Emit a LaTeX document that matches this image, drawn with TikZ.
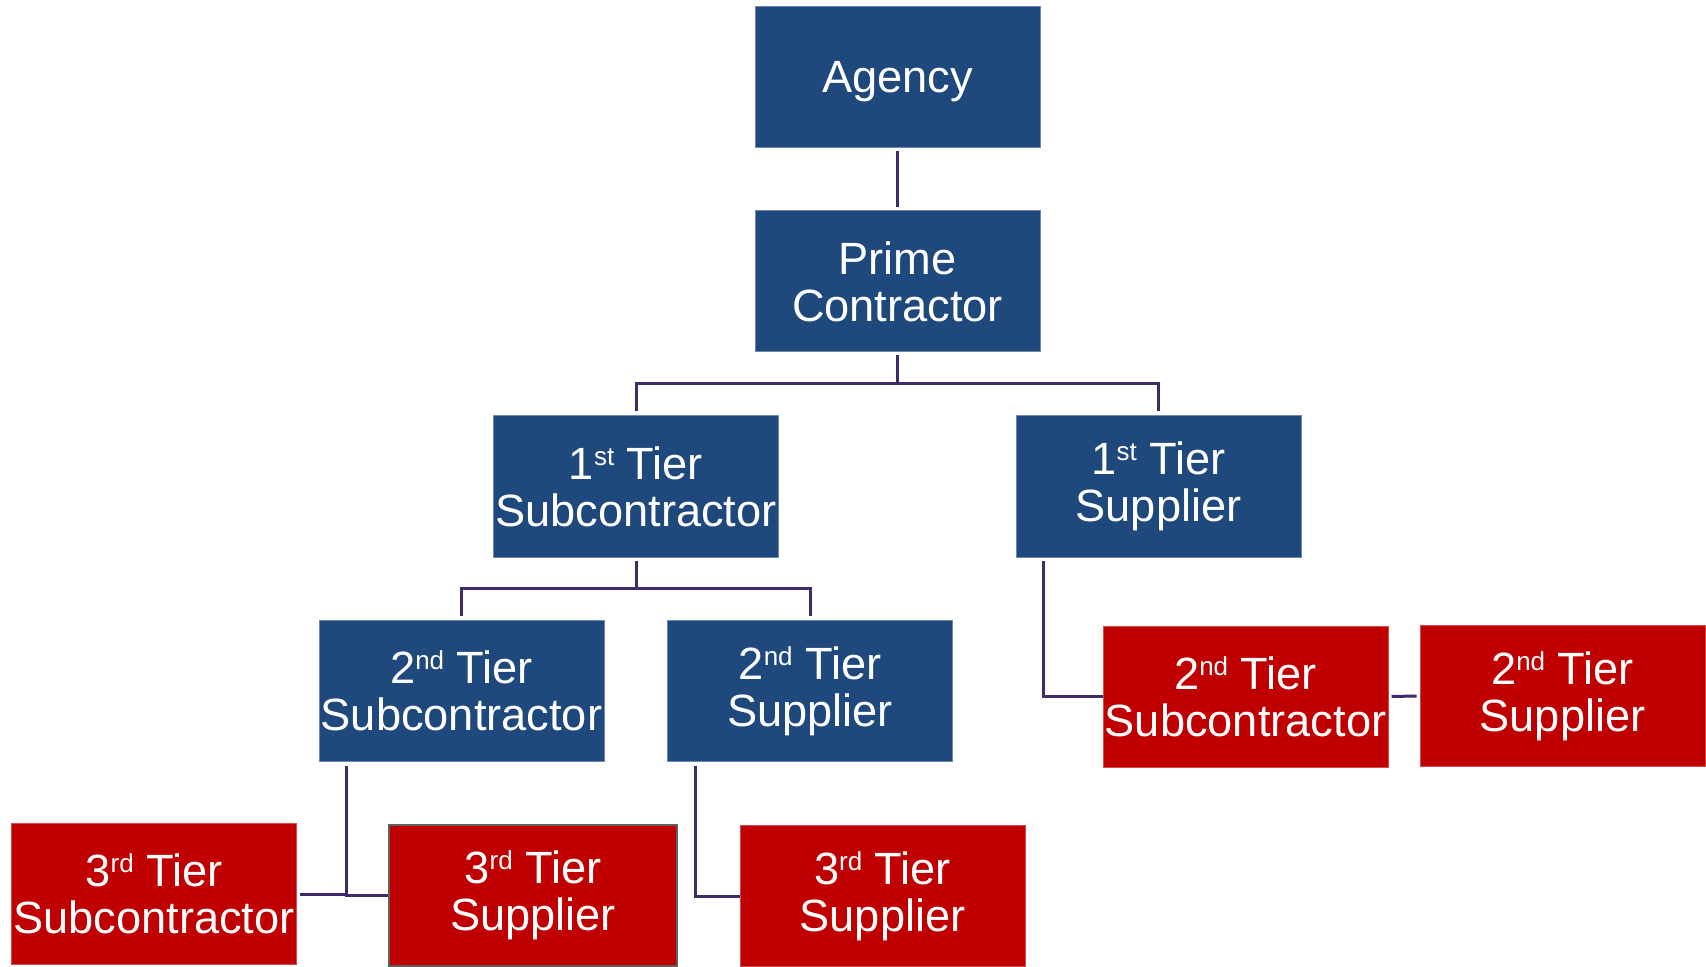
\documentclass[tikz,border=0pt]{standalone}
\usepackage{fontspec}
\newfontfamily\boxfont{Liberation Sans}
\definecolor{cblue}{HTML}{1F497D}
\definecolor{cred}{HTML}{C00000}
\definecolor{cline}{HTML}{3F2B6B}
\definecolor{cgrayb}{HTML}{606060}
\pgfdeclareradialshading{bgfade}{\pgfpoint{0bp}{0bp}}{color(0bp)=(white); color(40bp)=(white); color(72bp)=(black!9)}
\newcommand{\tsup}[1]{\raisebox{7pt}{\fontsize{13}{13}\selectfont #1}}
\tikzset{
  box/.style={minimum width=142.5pt, minimum height=70.5pt, inner sep=0pt,
    align=center, text=white, font=\boxfont\fontsize{22.6}{23.4}\selectfont},
  bluebox/.style={box, fill=cblue, draw=cblue!65!white, line width=0.5pt},
  redbox/.style={box, fill=cred, draw=cred!70!white, line width=0.5pt},
  conn/.style={draw=cline, line width=1.5pt}
}
\begin{document}
\begin{tikzpicture}[x=0.5pt, y=-0.5pt]
\useasboundingbox (0,0) rectangle (1706,967);
\shade[shading=bgfade] (0,0) rectangle (1706,967);
% nodes
\node[bluebox, text depth=0pt] (agency) at (897.5,77) {Agency};
\node[bluebox] (prime) at (897.5,281.5) {Prime\\Contractor};
\node[bluebox] (sub1) at (636,486.5) {1\tsup{st} Tier\\Subcontractor};
\node[bluebox] (sup1) at (1158.5,486.5) {1\tsup{st} Tier\\Supplier};
\node[bluebox] (sub2) at (461.5,691) {2\tsup{nd} Tier\\Subcontractor};
\node[bluebox] (sup2) at (810,691) {2\tsup{nd} Tier\\Supplier};
\node[redbox] (sub2r) at (1245.5,696.5) {2\tsup{nd} Tier\\Subcontractor};
\node[redbox] (sup2r) at (1562.5,696) {2\tsup{nd} Tier\\Supplier};
\node[redbox] (sub3) at (154,894) {3\tsup{rd} Tier\\Subcontractor};
\node[redbox, draw=cgrayb, line width=1.2pt, minimum width=144pt] (sup3a) at (533,895.5) {3\tsup{rd} Tier\\Supplier};
\node[redbox] (sup3b) at (882.5,896) {3\tsup{rd} Tier\\Supplier};
% helper coordinates
\coordinate (b1) at (897.5,384);
\coordinate (b2) at (636,588.5);
\coordinate (c1) at (346,766);
\coordinate (c2) at (695,766);
\coordinate (c3) at (1043.5,561);
% connectors
\draw[conn] ([yshift=-1.5pt]agency.south) -- ([yshift=1.5pt]prime.north);
\draw[conn] ([yshift=-1.5pt]prime.south) -- (b1);
\draw[conn] ([yshift=2pt]sub1.north) |- (b1) -| ([yshift=2pt]sup1.north);
\draw[conn] ([yshift=-1.5pt]sub1.south) -- (b2);
\draw[conn] ([yshift=2pt]sub2.north) |- (b2) -| ([yshift=2pt]sup2.north);
\draw[conn] (c1) |- (sup3a.west);
\draw[conn] ([xshift=1.5pt]sub3.east) -- (sub3.east -| c1);
\draw[conn] (c2) |- (sup3b.west);
\draw[conn] (c3) |- (sub2r.west);
\draw[conn, shorten <=1.5pt, shorten >=1.5pt] (sub2r.east) -- (sup2r.west);
\end{tikzpicture}
\end{document}
